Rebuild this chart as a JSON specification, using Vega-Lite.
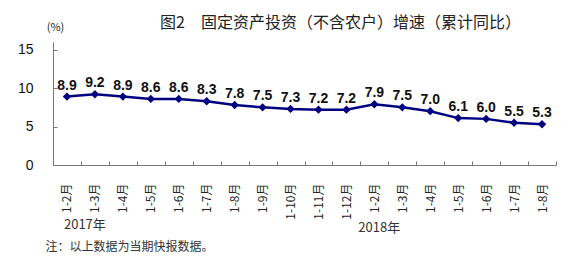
{
  "$schema": "https://vega.github.io/schema/vega-lite/v6.json",
  "width": 503,
  "height": 123,
  "autosize": {"type": "none"},
  "padding": {"left": 53, "top": 42, "right": 20, "bottom": 96},
  "config": {"view": {"stroke": null}},
  "title": {
    "text": "图2　固定资产投资（不含农户）增速（累计同比）",
    "font": "Noto Sans CJK SC",
    "fontSize": 16,
    "fontWeight": "normal",
    "color": "#222",
    "anchor": "start",
    "frame": "group",
    "dx": 107,
    "offset": -10
  },
  "data": {
    "values": [
      {"period": "2017年1-2月", "value": 8.9},
      {"period": "2017年1-3月", "value": 9.2},
      {"period": "2017年1-4月", "value": 8.9},
      {"period": "2017年1-5月", "value": 8.6},
      {"period": "2017年1-6月", "value": 8.6},
      {"period": "2017年1-7月", "value": 8.3},
      {"period": "2017年1-8月", "value": 7.8},
      {"period": "2017年1-9月", "value": 7.5},
      {"period": "2017年1-10月", "value": 7.3},
      {"period": "2017年1-11月", "value": 7.2},
      {"period": "2017年1-12月", "value": 7.2},
      {"period": "2018年1-2月", "value": 7.9},
      {"period": "2018年1-3月", "value": 7.5},
      {"period": "2018年1-4月", "value": 7.0},
      {"period": "2018年1-5月", "value": 6.1},
      {"period": "2018年1-6月", "value": 6.0},
      {"period": "2018年1-7月", "value": 5.5},
      {"period": "2018年1-8月", "value": 5.3}
    ]
  },
  "encoding": {
    "x": {
      "field": "period",
      "type": "ordinal",
      "sort": null,
      "scale": {"type": "band", "paddingInner": 0, "paddingOuter": 0},
      "axis": {
        "labelExpr": "replace(replace('' + datum.label, '2017年', ''), '2018年', '')",
        "labelAngle": -90,
        "labelFont": "Noto Sans CJK SC",
        "labelFontSize": 12,
        "labelColor": "#222",
        "labelPadding": 22,
        "tickBand": "extent",
        "tickSize": -4,
        "tickColor": "#777",
        "domainColor": "#777",
        "grid": false,
        "title": "注：以上数据为当期快报数据。",
        "titleFont": "Noto Sans CJK SC",
        "titleFontSize": 12,
        "titleFontWeight": "normal",
        "titleColor": "#333",
        "titleAnchor": "start",
        "titleAlign": "left",
        "titleBaseline": "middle",
        "titleX": -8,
        "titleY": 81
      }
    }
  },
  "layer": [
    {
      "mark": {"type": "line", "color": "#000080", "strokeWidth": 2.5},
      "encoding": {
        "y": {
          "field": "value",
          "type": "quantitative",
          "scale": {"domain": [0, 15]},
          "axis": {
            "values": [0, 5, 10, 15],
            "labelFont": "Liberation Sans",
            "labelFontSize": 14,
            "labelColor": "#111",
            "labelPadding": 24,
            "tickSize": -4,
            "tickColor": "#777",
            "domainColor": "#777",
            "grid": false,
            "title": "(%)",
            "titleFont": "Noto Sans CJK SC",
            "titleFontSize": 11,
            "titleFontWeight": "normal",
            "titleColor": "#222",
            "titleAngle": 0,
            "titleAlign": "center",
            "titleBaseline": "middle",
            "titleX": 2,
            "titleY": -15
          }
        }
      }
    },
    {
      "mark": {"type": "point", "shape": "diamond", "filled": true, "size": 70, "color": "#000080", "opacity": 1},
      "encoding": {"y": {"field": "value", "type": "quantitative"}}
    },
    {
      "mark": {"type": "text", "font": "Liberation Sans", "fontSize": 14, "fontWeight": "bold", "color": "#111", "baseline": "middle", "dy": -11},
      "encoding": {
        "y": {"field": "value", "type": "quantitative"},
        "text": {"field": "value", "type": "quantitative", "format": ".1f"}
      }
    },
    {
      "data": {"values": [{"period": "2017年1-2月", "year": "2017年"}]},
      "mark": {"type": "text", "font": "Noto Sans CJK SC", "fontSize": 13, "color": "#333", "align": "left", "baseline": "middle", "dx": -3},
      "encoding": {
        "y": {"datum": -7.8, "type": "quantitative"},
        "text": {"field": "year"}
      }
    },
    {
      "data": {"values": [{"period": "2018年1-2月", "year": "2018年"}]},
      "mark": {"type": "text", "font": "Noto Sans CJK SC", "fontSize": 13, "color": "#333", "align": "left", "baseline": "middle", "dx": -16},
      "encoding": {
        "y": {"datum": -8.2, "type": "quantitative"},
        "text": {"field": "year"}
      }
    }
  ]
}
